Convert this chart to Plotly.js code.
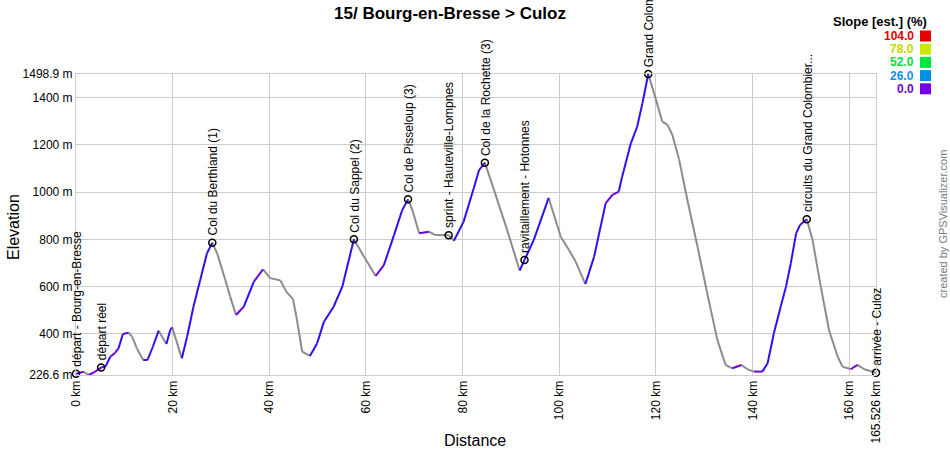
<!DOCTYPE html>
<html>
<head>
<meta charset="utf-8">
<script src="https://cdn.plot.ly/plotly-3.0.1.min.js"></script>
<style>
  html, body { margin: 0; padding: 0; background: #ffffff; }
  #chart { width: 950px; height: 450px; }
</style>
</head>
<body>
<div id="chart"></div>
<script>
// ---- Data ----
const distKm = [0, 1.6, 2.6, 3.6, 5.2, 6.1, 7.1, 8.1, 8.8, 9.7, 10.9, 11.6, 12.6, 13.9, 14.8, 15.9, 17.1, 18.7, 19.5, 19.9,
  21.9, 23.0, 24.3, 25.7, 27.1, 28.2, 29.2, 30.9, 31.9, 33.1, 34.7, 36.8, 38.7, 40.2, 42.3, 43.5, 44.9, 45.6, 46.8, 48.4,
  49.9, 51.3, 53.3, 55.1, 57.5, 59.5, 62.0, 63.7, 65.8, 67.5, 68.7, 69.6, 71.0, 73.0, 74.4, 77.1, 78.2, 80.2, 82.3, 83.4,
  84.6, 86.5, 89.2, 91.8, 92.8, 94.7, 97.8, 100.3, 102.0, 103.4, 105.4, 107.2, 109.6, 111.0, 112.3, 113.0, 114.8, 116.1, 117.2, 118.4,
  119.6, 121.3, 122.4, 123.4, 124.8, 126.5, 128.6, 130.6, 132.7, 134.4, 135.8, 137.7, 138.9, 140.3, 142.0, 143.1, 144.4, 145.8, 146.9, 147.9,
  149.0, 149.8, 151.2, 152.4, 154.1, 155.8, 157.6, 158.6, 160.3, 161.7, 163.1, 165.526];
const elevM = [232, 240, 226.6, 236, 258, 262, 304, 321, 339, 400, 405, 389, 339, 290, 290, 346, 414, 358, 417, 428,
  297, 389, 515, 628, 741, 786, 741, 628, 558, 480, 515, 621, 673, 636, 626, 579, 547, 473, 325, 307,
  361, 452, 515, 600, 800, 730, 645, 691, 818, 924, 969, 924, 826, 832, 818, 817, 794, 875, 1016, 1093,
  1124, 1008, 840, 668, 713, 797, 975, 811, 755, 705, 611, 727, 953, 988, 1002, 1065, 1206, 1276, 1375, 1498.9,
  1418, 1298, 1284, 1241, 1136, 966, 769, 572, 375, 269, 255, 269, 251, 241, 241, 276, 403, 515, 600, 699,
  825, 861, 885, 797, 600, 417, 304, 262, 251, 269, 251, 236];

const wpKm = [0, 5.2, 28.2, 57.5, 68.7, 77.1, 84.6, 92.8, 118.4, 151.2, 165.526];
const wpElev = [232, 258, 786, 800, 969, 817, 1124, 713, 1498.9, 885, 236];
const wpNames = ["départ - Bourg-en-Bresse", "départ réel", "Col du Berthiand (1)", "Col du Sappel (2)",
  "Col de Pisseloup (3)", "sprint - Hauteville-Lompnes", "Col de la Rochette (3)", "ravitaillement - Hotonnes",
  "Grand Colombier (HC)", "circuits du Grand Colombier...", "arrivée - Culoz"];

const xTickVals = [0, 20, 40, 60, 80, 100, 120, 140, 160, 165.526];
const xTickText = ["0 km", "20 km", "40 km", "60 km", "80 km", "100 km", "120 km", "140 km", "160 km", "165.526 km"];
const yTickVals = [226.6, 400, 600, 800, 1000, 1200, 1400, 1498.9];
const yTickText = ["226.6 m", "400 m", "600 m", "800 m", "1000 m", "1200 m", "1400 m", "1498.9 m"];

const slopeLegendVals = ["104.0", "78.0", "52.0", "26.0", "0.0"];
const slopeLegendText = ["#e00000", "#c4d800", "#00dd3a", "#1090e6", "#7000e0"];
const slopeLegendBox = ["#e60000", "#cce600", "#00e640", "#0090e6", "#7300e6"];

// ---- Styles ----
const FONT = "Arial, 'Liberation Sans', sans-serif";
const GRAY = "#8c8c8c", PURPLE = "#6a00e6", BLUE = "#2c12f2";

function segColor(slopePct) {
  if (slopePct < 0) return GRAY;
  if (slopePct < 3) return PURPLE;
  return BLUE;
}

// group profile segments by colour (null-separated)
const groups = {};
for (let i = 0; i < distKm.length - 1; i++) {
  const dk = distKm[i + 1] - distKm[i];
  const slope = (elevM[i + 1] - elevM[i]) / (dk * 1000) * 100;
  const c = segColor(slope);
  if (!groups[c]) groups[c] = { x: [], y: [] };
  const g = groups[c];
  g.x.push(distKm[i], distKm[i + 1], null);
  g.y.push(elevM[i], elevM[i + 1], null);
}

const traces = [];
[GRAY, PURPLE, BLUE].forEach(c => {
  if (!groups[c]) return;
  traces.push({
    type: "scatter", mode: "lines", x: groups[c].x, y: groups[c].y,
    line: { color: c, width: 2 }, hoverinfo: "skip", showlegend: false, connectgaps: false
  });
});

traces.push({
  type: "scatter", mode: "markers", x: wpKm, y: wpElev, text: wpNames,
  marker: { symbol: "circle-open", size: 7, color: "#000000", line: { color: "#000000", width: 1.5 } },
  showlegend: false, hoverinfo: "text", cliponaxis: false
});

const annotations = [];
wpNames.forEach((name, i) => {
  annotations.push({
    x: wpKm[i], y: wpElev[i], xref: "x", yref: "y", text: name, showarrow: false,
    textangle: -90, xanchor: "center", yanchor: "bottom", yshift: 5, xshift: 1,
    font: { family: FONT, size: 12, color: "#000000" }
  });
});

// axis titles
annotations.push({
  xref: "paper", yref: "paper", x: (475 - 76) / 800, y: (375 - 441) / 301,
  text: "Distance", showarrow: false, xanchor: "center", yanchor: "middle",
  font: { family: FONT, size: 16, color: "#000000" }
});
annotations.push({
  xref: "paper", yref: "paper", x: (13 - 76) / 800, y: (375 - 227) / 301,
  text: "Elevation", showarrow: false, textangle: -90, xanchor: "center", yanchor: "middle",
  font: { family: FONT, size: 16, color: "#000000" }
});

// slope legend
annotations.push({
  xref: "paper", yref: "paper", x: (929 - 76) / 800, y: (375 - 21) / 301,
  text: "<b>Slope [est.] (%)</b>", showarrow: false, xanchor: "right", yanchor: "middle",
  font: { family: FONT, size: 13, color: "#000000" }
});
const shapes = [];
slopeLegendVals.forEach((v, i) => {
  const cy = 36 + i * 13.2;
  annotations.push({
    xref: "paper", yref: "paper", x: (916 - 76) / 800, y: (375 - cy) / 301,
    text: "<b>" + v + "</b>", showarrow: false, xanchor: "right", yanchor: "middle",
    font: { family: FONT, size: 12, color: slopeLegendText[i] }
  });
  shapes.push({
    type: "rect", xref: "paper", yref: "paper",
    x0: (920 - 76) / 800, x1: (931 - 76) / 800,
    y0: (375 - (cy + 5.5)) / 301, y1: (375 - (cy - 5.5)) / 301,
    fillcolor: slopeLegendBox[i], line: { width: 0 }
  });
});

// credit
annotations.push({
  xref: "paper", yref: "paper", x: (943 - 76) / 800, y: (375 - 224) / 301,
  text: "created by GPSVisualizer.com", showarrow: false, textangle: -90,
  xanchor: "center", yanchor: "middle",
  font: { family: FONT, size: 11, color: "#7a7a7a" }
});

const layout = {
  width: 950, height: 450,
  margin: { l: 76, r: 74, t: 74, b: 75, pad: 0 },
  paper_bgcolor: "#ffffff", plot_bgcolor: "#ffffff",
  font: { family: FONT, size: 12, color: "#000000" },
  title: {
    text: "<b>15/ Bourg-en-Bresse > Culoz</b>",
    font: { family: FONT, size: 17, color: "#000000" },
    xref: "container", x: 450 / 950, xanchor: "center",
    yref: "container", y: 1 - 13 / 450, yanchor: "middle"
  },
  xaxis: {
    range: [0, 165.526], tickmode: "array", tickvals: xTickVals, ticktext: xTickText,
    tickangle: -90, ticks: "", showgrid: true, gridcolor: "#cccccc", gridwidth: 1,
    zeroline: false, showline: true, linecolor: "#cccccc", linewidth: 1, mirror: true,
    tickfont: { family: FONT, size: 12, color: "#000000" }, fixedrange: true, automargin: false
  },
  yaxis: {
    range: [226.6, 1498.9], tickmode: "array", tickvals: yTickVals, ticktext: yTickText,
    ticks: "", showgrid: true, gridcolor: "#cccccc", gridwidth: 1,
    zeroline: false, showline: true, linecolor: "#cccccc", linewidth: 1, mirror: true,
    tickfont: { family: FONT, size: 12, color: "#000000" }, fixedrange: true, automargin: false
  },
  annotations: annotations,
  shapes: shapes,
  showlegend: false
};

Plotly.newPlot("chart", traces, layout, { displayModeBar: false, staticPlot: true });
</script>
</body>
</html>
